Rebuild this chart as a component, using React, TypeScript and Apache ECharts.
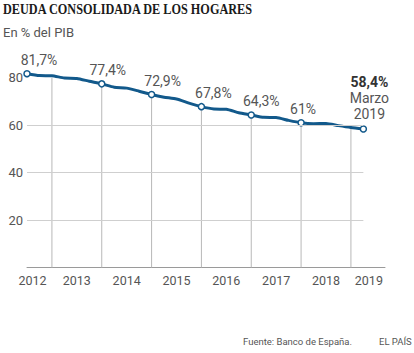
import React, { useEffect, useRef } from 'react';
import * as echarts from 'echarts';

// Quarterly periods (end of quarter) and household debt as % of GDP
const periods = [
  '2012-06', '2012-09', '2012-12',
  '2013-03', '2013-06', '2013-09', '2013-12',
  '2014-03', '2014-06', '2014-09', '2014-12',
  '2015-03', '2015-06', '2015-09', '2015-12',
  '2016-03', '2016-06', '2016-09', '2016-12',
  '2017-03', '2017-06', '2017-09', '2017-12',
  '2018-03', '2018-06', '2018-09', '2018-12',
  '2019-03',
];
const values = [
  81.7, 80.9, 80.8,
  79.9, 79.7, 78.5, 77.4,
  76.0, 75.6, 74.3, 72.9,
  71.8, 71.0, 69.3, 67.8,
  66.8, 66.7, 65.2, 64.3,
  63.3, 63.2, 62.0, 61.0,
  60.6, 60.7, 59.8, 59.0,
  58.4,
];
const labeledPeriods = ['2012-06', '2013-12', '2014-12', '2015-12', '2016-12', '2017-12', '2019-03'];
const years = [2012, 2013, 2014, 2015, 2016, 2017, 2018, 2019];
const yTicks = [20, 40, 60, 80];
const monthNames = ['Enero', 'Febrero', 'Marzo', 'Abril', 'Mayo', 'Junio', 'Julio', 'Agosto', 'Septiembre', 'Octubre', 'Noviembre', 'Diciembre'];

const BLUE = '#12598b';
const TXT = '#555555';
const FONT = 'Roboto, "Noto Sans", sans-serif';

const toX = (p: string) => {
  const [y, m] = p.split('-').map(Number);
  return y + m / 12;
};
const fmt = (v: number) => String(v).replace('.', ',');

export default function App() {
  const ref = useRef<HTMLDivElement>(null);
  useEffect(() => {
    document.body.style.margin = '0';
    const chart = echarts.init(ref.current!, null, { renderer: 'svg' });
    const xs = periods.map(toX);
    const x0 = xs[0];
    const x1 = xs[xs.length - 1];
    const lastIdx = periods.length - 1;
    const labelOffsets: Record<string, number[]> = {
      '2012-06': [12, 0],
      '2013-12': [6, 0],
      '2014-12': [11, 0],
      '2015-12': [12, 0],
      '2016-12': [10, 0],
      '2017-12': [2, 0],
    };
    const lineData = periods.map((p, i) => {
      const isLab = labeledPeriods.includes(p);
      const item: any = { value: [xs[i], values[i]], symbol: isLab ? 'circle' : 'none' };
      if (isLab) {
        if (i === lastIdx) {
          const [yy, mm] = p.split('-').map(Number);
          item.label = {
            show: true,
            position: 'top',
            distance: 3,
            offset: [6, 0],
            align: 'center',
            formatter: `{b|${fmt(values[i])}%}\n{n|${monthNames[mm - 1]}}\n{n|${yy}}`,
            rich: {
              b: { fontFamily: FONT, fontSize: 14, fontWeight: 'bold', color: '#333', lineHeight: 16, align: 'center' },
              n: { fontFamily: FONT, fontSize: 14, color: TXT, lineHeight: 16, align: 'center' },
            },
          };
        } else {
          item.label = {
            show: true,
            position: 'top',
            distance: 3,
            offset: labelOffsets[p] || [0, 0],
            formatter: fmt(values[i]) + '%',
          };
        }
      }
      return item;
    });
    const dropData = periods
      .map((p, i) => ({ p, v: [xs[i], values[i]] }))
      .filter((d) => d.p.endsWith('-12'))
      .map((d) => d.v);
    const labelPos = years.map((y, i) =>
      i === 0 ? y + 0.61 : i === years.length - 1 ? y + 0.36 : y + 0.5
    );

    chart.setOption({
      animation: false,
      grid: { left: 27, right: 29, top: 77.7, bottom: 85.5, containLabel: false },
      xAxis: {
        type: 'value',
        min: x0,
        max: 2019.684,
        axisLine: { show: true, lineStyle: { color: '#9a9a9a', width: 1 } },
        axisTick: { show: false },
        splitLine: { show: false },
        axisLabel: {
          customValues: labelPos,
          formatter: (v: number) => String(Math.floor(v)),
          color: TXT,
          fontFamily: FONT,
          fontSize: 12.5,
          margin: 6,
        },
      },
      yAxis: {
        type: 'value',
        min: 0,
        max: 80,
        interval: 20,
        axisLine: { show: false },
        axisTick: { show: false },
        splitLine: { show: false },
        axisLabel: {
          showMinLabel: false,
          color: TXT,
          fontFamily: FONT,
          fontSize: 13,
          margin: 4,
        },
      },
      series: [
        {
          type: 'bar',
          data: dropData,
          barWidth: 1,
          itemStyle: { color: '#b8b8b8' },
          silent: true,
          z: 1,
          markLine: {
            silent: true,
            symbol: 'none',
            label: { show: false },
            lineStyle: { color: '#cfcfcf', width: 1, type: 'solid' },
            data: yTicks
              .filter((t) => t < 80)
              .map((t) => [{ coord: [x0, t] }, { coord: [x1, t] }]),
          },
        },
        {
          type: 'line',
          data: lineData,
          clip: false,
          smooth: 0.2,
          showSymbol: true,
          symbolSize: 6,
          lineStyle: { color: BLUE, width: 3 },
          itemStyle: { color: '#ffffff', borderColor: BLUE, borderWidth: 1.5 },
          label: { color: TXT, fontFamily: FONT, fontSize: 14 },
          emphasis: { disabled: true },
          z: 3,
        },
      ],
      graphic: [
        {
          type: 'text',
          x: 3,
          y: 9,
          scaleX: 0.817,
          style: {
            text: 'DEUDA CONSOLIDADA DE LOS HOGARES',
            font: 'bold 15px "Liberation Serif", serif',
            fill: '#1a1a1a',
            textVerticalAlign: 'middle',
          },
        },
        {
          type: 'text',
          x: 3,
          y: 32,
          style: {
            text: 'En % del PIB',
            font: `13px ${FONT}`,
            fill: TXT,
            textVerticalAlign: 'middle',
          },
        },
        {
          type: 'text',
          x: 243,
          y: 341,
          style: {
            text: 'Fuente: Banco de España.',
            font: `9.5px ${FONT}`,
            fill: TXT,
            textVerticalAlign: 'middle',
          },
        },
        {
          type: 'text',
          x: 379,
          y: 341,
          style: {
            text: 'EL PAÍS',
            font: `9.5px ${FONT}`,
            fill: TXT,
            textVerticalAlign: 'middle',
          },
        },
      ],
    });
    return () => chart.dispose();
  }, []);
  return <div ref={ref} style={{ position: 'absolute', left: 0, top: 0, width: 414, height: 353 }} />;
}
